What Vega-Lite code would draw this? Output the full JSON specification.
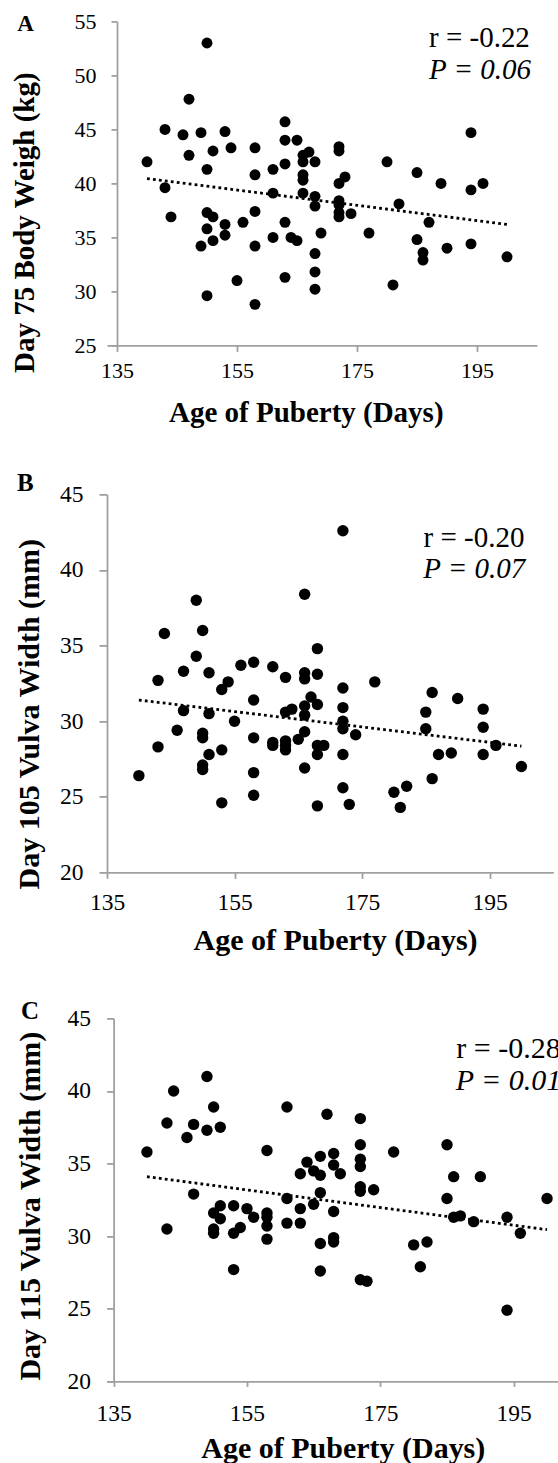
{
  "$schema": "https://vega.github.io/schema/vega-lite/v6.json",
  "padding": {"left": 10, "top": 10.4, "right": 0, "bottom": 0},
  "background": "white",
  "columns": 1,
  "align": {"row": "none", "column": "all"},
  "spacing": 42,
  "config": {
    "view": {"stroke": null},
    "font": "Liberation Serif",
    "axis": {
      "grid": false,
      "domainColor": "#a0a0a0",
      "domainWidth": 1.8,
      "tickColor": "#a0a0a0",
      "tickWidth": 1.8,
      "labelColor": "black",
      "titleColor": "black",
      "labelFont": "Liberation Serif",
      "titleFont": "Liberation Serif",
      "titleFontWeight": "bold",
      "labelFlush": false,
      "labelOverlap": false,
      "titleAlign": "center",
      "titleBaseline": "alphabetic"
    },
    "title": {"font": "Liberation Serif", "fontWeight": "bold", "color": "black", "anchor": "start", "frame": "group", "baseline": "alphabetic"}
  },
  "datasets": {
    "ptsA": [
      {"age":140,"v":42.0},{"age":143,"v":45.0},{"age":143,"v":39.6},{"age":144,"v":36.9},{"age":146,"v":44.5},{"age":147,"v":47.8},{"age":147,"v":42.6},{"age":149,"v":44.7},{"age":149,"v":34.2},{"age":150,"v":53.0},{"age":150,"v":41.3},{"age":150,"v":37.3},{"age":150,"v":35.8},{"age":150,"v":29.6},{"age":151,"v":43.0},{"age":151,"v":36.9},{"age":151,"v":34.7},{"age":153,"v":44.8},{"age":153,"v":36.2},{"age":153,"v":35.2},{"age":154,"v":43.3},{"age":155,"v":31.0},{"age":156,"v":36.4},{"age":158,"v":43.3},{"age":158,"v":40.8},{"age":158,"v":37.4},{"age":158,"v":34.2},{"age":158,"v":28.8},{"age":161,"v":41.3},{"age":161,"v":39.1},{"age":161,"v":35.0},{"age":163,"v":45.7},{"age":163,"v":44.0},{"age":163,"v":41.8},{"age":163,"v":36.4},{"age":163,"v":31.3},{"age":164,"v":35.0},{"age":165,"v":44.0},{"age":165,"v":34.7},{"age":166,"v":42.6},{"age":166,"v":42.0},{"age":166,"v":40.8},{"age":166,"v":40.3},{"age":166,"v":39.1},{"age":167,"v":42.9},{"age":168,"v":42.0},{"age":168,"v":38.8},{"age":168,"v":37.9},{"age":168,"v":33.5},{"age":168,"v":31.8},{"age":168,"v":30.2},{"age":169,"v":35.4},{"age":172,"v":43.4},{"age":172,"v":43.0},{"age":172,"v":40.0},{"age":172,"v":38.4},{"age":172,"v":38.0},{"age":172,"v":37.3},{"age":172,"v":36.9},{"age":173,"v":40.6},{"age":174,"v":37.2},{"age":177,"v":35.4},{"age":180,"v":42.0},{"age":181,"v":30.6},{"age":182,"v":38.1},{"age":185,"v":41.0},{"age":185,"v":34.8},{"age":186,"v":33.6},{"age":186,"v":32.9},{"age":187,"v":36.4},{"age":189,"v":40.0},{"age":190,"v":34.0},{"age":194,"v":44.7},{"age":194,"v":39.4},{"age":194,"v":34.4},{"age":196,"v":40.0},{"age":200,"v":33.2}
    ],
    "ptsB": [
      {"age":140,"v":26.4},{"age":143,"v":32.7},{"age":143,"v":28.3},{"age":144,"v":35.8},{"age":146,"v":29.4},{"age":147,"v":33.3},{"age":147,"v":30.7},{"age":149,"v":38.0},{"age":149,"v":34.3},{"age":150,"v":36.0},{"age":150,"v":29.2},{"age":150,"v":28.9},{"age":150,"v":27.1},{"age":150,"v":26.8},{"age":151,"v":33.2},{"age":151,"v":30.5},{"age":151,"v":27.8},{"age":153,"v":32.1},{"age":153,"v":28.1},{"age":153,"v":24.6},{"age":154,"v":32.6},{"age":155,"v":30.0},{"age":156,"v":33.7},{"age":158,"v":33.9},{"age":158,"v":31.4},{"age":158,"v":28.9},{"age":158,"v":26.6},{"age":158,"v":25.1},{"age":161,"v":33.6},{"age":161,"v":28.6},{"age":161,"v":28.4},{"age":163,"v":32.9},{"age":163,"v":30.6},{"age":163,"v":28.7},{"age":163,"v":28.4},{"age":163,"v":28.1},{"age":164,"v":30.8},{"age":165,"v":28.8},{"age":166,"v":38.4},{"age":166,"v":33.2},{"age":166,"v":32.8},{"age":166,"v":31.0},{"age":166,"v":30.4},{"age":166,"v":29.3},{"age":166,"v":26.9},{"age":167,"v":31.6},{"age":168,"v":34.8},{"age":168,"v":33.1},{"age":168,"v":31.1},{"age":168,"v":28.4},{"age":168,"v":27.8},{"age":168,"v":24.4},{"age":169,"v":28.4},{"age":172,"v":42.6},{"age":172,"v":32.2},{"age":172,"v":30.9},{"age":172,"v":30.0},{"age":172,"v":29.5},{"age":172,"v":27.8},{"age":172,"v":25.6},{"age":173,"v":24.5},{"age":174,"v":29.1},{"age":177,"v":32.6},{"age":180,"v":25.3},{"age":181,"v":24.3},{"age":182,"v":25.7},{"age":185,"v":30.6},{"age":185,"v":29.5},{"age":186,"v":31.9},{"age":186,"v":26.2},{"age":187,"v":27.8},{"age":189,"v":27.9},{"age":190,"v":31.5},{"age":194,"v":30.8},{"age":194,"v":29.6},{"age":194,"v":27.8},{"age":196,"v":28.4},{"age":200,"v":27.0}
    ],
    "ptsC": [
      {"age":140,"v":35.8},{"age":143,"v":37.8},{"age":143,"v":30.5},{"age":144,"v":40.0},{"age":146,"v":36.8},{"age":147,"v":37.7},{"age":147,"v":32.9},{"age":149,"v":41.0},{"age":149,"v":37.3},{"age":150,"v":38.9},{"age":150,"v":31.6},{"age":150,"v":30.5},{"age":150,"v":30.2},{"age":151,"v":37.5},{"age":151,"v":32.1},{"age":151,"v":31.2},{"age":153,"v":32.1},{"age":153,"v":30.2},{"age":153,"v":27.7},{"age":154,"v":30.6},{"age":155,"v":31.9},{"age":156,"v":31.3},{"age":158,"v":35.9},{"age":158,"v":31.6},{"age":158,"v":31.3},{"age":158,"v":30.7},{"age":158,"v":29.8},{"age":161,"v":38.9},{"age":161,"v":32.6},{"age":161,"v":30.9},{"age":163,"v":34.3},{"age":163,"v":31.9},{"age":163,"v":30.9},{"age":164,"v":35.1},{"age":165,"v":34.5},{"age":165,"v":32.2},{"age":166,"v":35.5},{"age":166,"v":34.2},{"age":166,"v":33.0},{"age":166,"v":29.5},{"age":166,"v":27.6},{"age":167,"v":38.4},{"age":168,"v":35.7},{"age":168,"v":34.9},{"age":168,"v":31.7},{"age":168,"v":29.9},{"age":168,"v":29.6},{"age":169,"v":34.3},{"age":172,"v":38.1},{"age":172,"v":36.3},{"age":172,"v":35.3},{"age":172,"v":34.8},{"age":172,"v":33.4},{"age":172,"v":33.1},{"age":172,"v":27.0},{"age":173,"v":26.9},{"age":174,"v":33.2},{"age":177,"v":35.8},{"age":180,"v":29.4},{"age":181,"v":27.9},{"age":182,"v":29.6},{"age":185,"v":36.3},{"age":185,"v":32.6},{"age":186,"v":34.1},{"age":186,"v":31.3},{"age":187,"v":31.4},{"age":189,"v":31.0},{"age":190,"v":34.1},{"age":194,"v":31.3},{"age":194,"v":24.9},{"age":196,"v":30.2},{"age":200,"v":32.6}
    ],
    "fits": [
      {"panel":"A","age":140,"fit":40.45},{"panel":"A","age":200,"fit":36.2},
      {"panel":"B","age":140,"fit":31.4},{"panel":"B","age":200,"fit":28.35},
      {"panel":"C","age":140,"fit":34.1},{"panel":"C","age":200,"fit":30.45}
    ],
    "notes": [
      {"panel":"A","r":"r = -0.22","p":"P = 0.06"},
      {"panel":"B","r":"r = -0.20","p":"P = 0.07"},
      {"panel":"C","r":"r = -0.28","p":"P = 0.01"}
    ]
  },
  "concat": [
    {
      "width": 430, "height": 324,
      "title": {"text": "A", "fontSize": 23, "dx": -89.7, "offset": -25.3},
      "layer": [
        {
          "data": {"name": "ptsA"},
          "mark": {"type": "circle", "size": 120, "color": "black", "opacity": 1},
          "encoding": {
            "x": {"field": "age", "type": "quantitative", "scale": {"domain": [133.3333, 205], "nice": false, "zero": false},
              "axis": {"values": [135,155,175,195], "title": "Age of Puberty (Days)", "titleX": 198.8, "titleY": 76.5, "tickSize": 6, "labelPadding": 9, "labelFontSize": 22, "titleFontSize": 29}},
            "y": {"field": "v", "type": "quantitative", "scale": {"domain": [25, 55], "nice": false, "zero": false},
              "axis": {"values": [25,30,35,40,45,50,55], "offset": -10, "title": "Day 75 Body Weigh (kg)", "titleAngle": 270, "titleX": -83.7, "titleY": 200.8, "tickSize": 6, "labelPadding": 15, "labelFontSize": 22, "titleFontSize": 29}}
          }
        },
        {
          "data": {"name": "fits"},
          "transform": [{"filter": "datum.panel === 'A'"}],
          "mark": {"type": "line", "color": "black", "strokeWidth": 2.8, "strokeDash": [2.8, 3.2]},
          "encoding": {"x": {"field": "age", "type": "quantitative"}, "y": {"field": "fit", "type": "quantitative"}}
        },
        {
          "data": {"name": "notes"},
          "transform": [{"filter": "datum.panel === 'A'"}],
          "mark": {"type": "text", "align": "left", "baseline": "alphabetic", "fontSize": 29, "font": "Liberation Serif", "color": "black"},
          "encoding": {"x": {"datum": 187.0}, "y": {"datum": 52.6}, "text": {"field": "r"}}
        },
        {
          "data": {"name": "notes"},
          "transform": [{"filter": "datum.panel === 'A'"}],
          "mark": {"type": "text", "align": "left", "baseline": "alphabetic", "fontSize": 29, "font": "Liberation Serif", "fontStyle": "italic", "color": "black"},
          "encoding": {"x": {"datum": 187.0}, "y": {"datum": 49.67}, "text": {"field": "p"}}
        }
      ]
    },
    {
      "width": 446.3, "height": 378,
      "title": {"text": "B", "fontSize": 25, "dx": -90, "offset": -13.3},
      "layer": [
        {
          "data": {"name": "ptsB"},
          "mark": {"type": "circle", "size": 130, "color": "black", "opacity": 1},
          "encoding": {
            "x": {"field": "age", "type": "quantitative", "scale": {"domain": [135, 205], "nice": false, "zero": false},
              "axis": {"values": [135,155,175,195], "title": "Age of Puberty (Days)", "titleX": 228.1, "titleY": 77.6, "tickSize": 6, "labelPadding": 12, "labelFontSize": 23.5, "titleFontSize": 30}},
            "y": {"field": "v", "type": "quantitative", "scale": {"domain": [20, 45], "nice": false, "zero": false},
              "axis": {"values": [20,25,30,35,40,45], "title": "Day 105 Vulva Width (mm)", "titleAngle": 270, "titleX": -68.7, "titleY": 219.3, "tickSize": 8, "labelPadding": 16, "labelFontSize": 23.5, "titleFontSize": 30}}
          }
        },
        {
          "data": {"name": "fits"},
          "transform": [{"filter": "datum.panel === 'B'"}],
          "mark": {"type": "line", "color": "black", "strokeWidth": 2.8, "strokeDash": [2.8, 3.2]},
          "encoding": {"x": {"field": "age", "type": "quantitative"}, "y": {"field": "fit", "type": "quantitative"}}
        },
        {
          "data": {"name": "notes"},
          "transform": [{"filter": "datum.panel === 'B'"}],
          "mark": {"type": "text", "align": "left", "baseline": "alphabetic", "fontSize": 29, "font": "Liberation Serif", "color": "black"},
          "encoding": {"x": {"datum": 184.65}, "y": {"datum": 41.54}, "text": {"field": "r"}}
        },
        {
          "data": {"name": "notes"},
          "transform": [{"filter": "datum.panel === 'B'"}],
          "mark": {"type": "text", "align": "left", "baseline": "alphabetic", "fontSize": 29, "font": "Liberation Serif", "fontStyle": "italic", "color": "black"},
          "encoding": {"x": {"datum": 184.6}, "y": {"datum": 39.44}, "text": {"field": "p"}}
        }
      ]
    },
    {
      "width": 451.3, "height": 363,
      "title": {"text": "C", "fontSize": 25, "dx": -86, "offset": -17.5},
      "layer": [
        {
          "data": {"name": "ptsC"},
          "mark": {"type": "circle", "size": 130, "color": "black", "opacity": 1},
          "encoding": {
            "x": {"field": "age", "type": "quantitative", "scale": {"domain": [134.01, 201.69], "nice": false, "zero": false},
              "axis": {"values": [135,155,175,195], "title": "Age of Puberty (Days)", "titleX": 235.8, "titleY": 76, "tickSize": 5, "labelPadding": 15, "labelFontSize": 23.5, "titleFontSize": 30}},
            "y": {"field": "v", "type": "quantitative", "scale": {"domain": [20, 45], "nice": false, "zero": false},
              "axis": {"values": [20,25,30,35,40,45], "offset": -6.6, "title": "Day 115 Vulva Width (mm)", "titleAngle": 270, "titleX": -74.3, "titleY": 187.3, "tickSize": 7, "labelPadding": 16, "labelFontSize": 23.5, "titleFontSize": 30}}
          }
        },
        {
          "data": {"name": "fits"},
          "transform": [{"filter": "datum.panel === 'C'"}],
          "mark": {"type": "line", "color": "black", "strokeWidth": 2.8, "strokeDash": [2.8, 3.2]},
          "encoding": {"x": {"field": "age", "type": "quantitative"}, "y": {"field": "fit", "type": "quantitative"}}
        },
        {
          "data": {"name": "notes"},
          "transform": [{"filter": "datum.panel === 'C'"}],
          "mark": {"type": "text", "align": "left", "baseline": "alphabetic", "fontSize": 30, "font": "Liberation Serif", "color": "black", "clip": true},
          "encoding": {"x": {"datum": 186.4}, "y": {"datum": 42.25}, "text": {"field": "r"}}
        },
        {
          "data": {"name": "notes"},
          "transform": [{"filter": "datum.panel === 'C'"}],
          "mark": {"type": "text", "align": "left", "baseline": "alphabetic", "fontSize": 30, "font": "Liberation Serif", "fontStyle": "italic", "color": "black", "clip": true},
          "encoding": {"x": {"datum": 186.3}, "y": {"datum": 40.1}, "text": {"field": "p"}}
        }
      ]
    }
  ]
}
